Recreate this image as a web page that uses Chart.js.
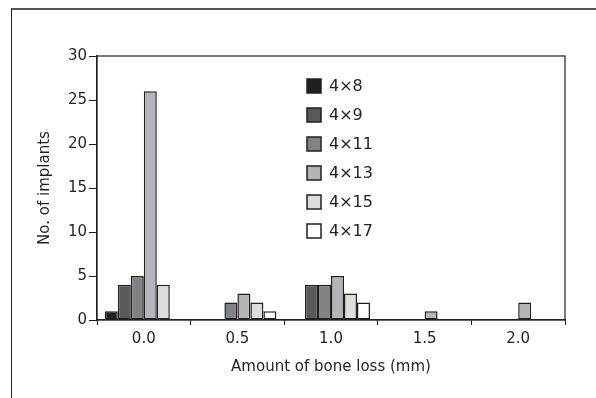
<!DOCTYPE html>
<html>
<head>
<meta charset="utf-8">
<script src="https://cdn.jsdelivr.net/npm/chart.js@4"></script>
<style>
  html, body { margin: 0; padding: 0; background: #fff; }
  #wrap { position: relative; width: 596px; height: 398px; }
  #frame { position: absolute; left: 11px; top: 8px; right: 0; bottom: 0;
           border-top: 2px solid #555; border-left: 1px solid #222; }
  canvas { position: absolute; left: 0; top: 0; }
</style>
</head>
<body>
<div id="wrap">
  <div id="frame"></div>
  <canvas id="boneChart" width="596" height="398"></canvas>
</div>
<script>
const categories = ['0.0', '0.5', '1.0', '1.5', '2.0'];
const sizes = ['4\u00d78', '4\u00d79', '4\u00d711', '4\u00d713', '4\u00d715', '4\u00d717'];
const s4x8  = [1, 0, 0, 0, 0];
const s4x9  = [4, 0, 4, 0, 0];
const s4x11 = [5, 2, 4, 0, 0];
const s4x13 = [26, 3, 5, 1, 2];
const s4x15 = [4, 2, 3, 0, 0];
const s4x17 = [0, 1, 2, 0, 0];
const fills = ['#231f20', '#58595b', '#808285', '#b3b5b8', '#dcddde', '#ffffff'];

const font = '"DejaVu Sans", sans-serif';
const ink = '#231f20';

// box round the plot area and the legend drawn inside it
const plotBox = {
  id: 'plotBox',
  afterDatasetsDraw(chart) {
    const { ctx, chartArea: a } = chart;
    ctx.save();
    ctx.strokeStyle = ink;
    ctx.lineWidth = 1.2;
    ctx.strokeRect(a.left, a.top, a.right - a.left, a.bottom - a.top);
    ctx.font = '16px ' + font;
    ctx.textBaseline = 'middle';
    chart.data.datasets.forEach((ds, i) => {
      const y = 86 + i * 29;
      ctx.fillStyle = ds.backgroundColor;
      ctx.fillRect(307, y - 7, 14, 14);
      ctx.lineWidth = 1.5;
      ctx.strokeStyle = ink;
      ctx.strokeRect(307, y - 7, 14, 14);
      ctx.fillStyle = ink;
      ctx.fillText(ds.label, 329, y + 1);
    });
    ctx.restore();
  }
};

const series = [s4x8, s4x9, s4x11, s4x13, s4x15, s4x17];

new Chart(document.getElementById('boneChart'), {
  type: 'bar',
  data: {
    labels: categories,
    datasets: series.map((d, i) => ({
      label: sizes[i],
      data: d,
      backgroundColor: fills[i],
      borderColor: ink,
      borderWidth: 1.5,
      borderSkipped: false,
      barPercentage: 1,
      categoryPercentage: 0.833
    }))
  },
  options: {
    responsive: false,
    animation: false,
    layout: { padding: { top: 56, right: 31, bottom: 0, left: 0 } },
    plugins: { legend: { display: false }, tooltip: { enabled: false } },
    scales: {
      x: {
        afterFit: s => { s.height = 78; },
        border: { display: true, color: ink, width: 1.2 },
        grid: { drawOnChartArea: false, color: ink, tickLength: 5, offset: true },
        ticks: { color: ink, font: { family: font, size: 15 }, padding: 5 },
        title: { display: true, text: 'Amount of bone loss (mm)', color: ink,
                 font: { family: font, size: 15 }, padding: { top: 0, bottom: 22 } }
      },
      y: {
        min: 0, max: 30,
        afterFit: s => { s.width = 97; },
        border: { display: true, color: ink, width: 1.2 },
        grid: { drawOnChartArea: false, color: ink, tickLength: 8 },
        ticks: { stepSize: 5, color: ink, font: { family: font, size: 15 }, padding: 2 },
        title: { display: true, text: 'No. of implants', color: ink,
                 font: { family: font, size: 15 }, padding: { top: 36, bottom: 0 } }
      }
    }
  },
  plugins: [plotBox]
});
</script>
</body>
</html>
